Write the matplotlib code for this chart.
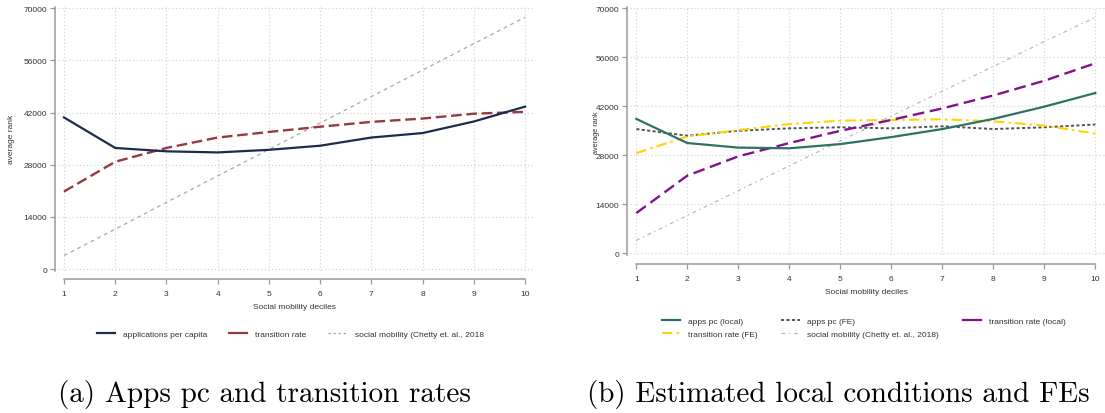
import matplotlib
matplotlib.use("Agg")
import matplotlib.pyplot as plt
from matplotlib.lines import Line2D

# ---------------- data ----------------
deciles = [1, 2, 3, 4, 5, 6, 7, 8, 9, 10]
yticks = [0, 14000, 28000, 42000, 56000, 70000]

# panel (a)
apps_pc = [40700, 32500, 31600, 31300, 32000, 33100, 35300, 36500, 39600, 43600]
transition_rate = [20800, 28800, 32500, 35300, 36800, 38200, 39500, 40400, 41700, 42200]
social_mobility = [3600, 10700, 17900, 25000, 32100, 39200, 46300, 53400, 60500, 67600]

# panel (b)
apps_pc_local = [38400, 31500, 30200, 30000, 31200, 33200, 35500, 38400, 41900, 45800]
apps_pc_fe = [35500, 33600, 35000, 35700, 36000, 35700, 36300, 35500, 36000, 36800]
trans_local = [11500, 22200, 27700, 31500, 35000, 38100, 41400, 45100, 49300, 54300]
trans_fe = [28600, 33400, 35200, 36900, 37900, 38100, 38300, 37700, 36500, 34200]
social_mobility_b = [3700, 10800, 17900, 25000, 32100, 39200, 46300, 53400, 60500, 67400]

caption_a = "(a) Apps pc and transition rates"
caption_b = "(b) Estimated local conditions and FEs"

# ---------------- figure ----------------
W, H = 1105, 414
DPI = 100
fig = plt.figure(figsize=(W / DPI, H / DPI), dpi=DPI)

FONT = "Liberation Sans"
FS = 6
TXT = "#333333"
SPINE = "#9a9a9a"
GRID = "#cfcfcf"


def px_axes(left, right, top, bottom):
    return fig.add_axes([left / W, 1 - bottom / H, (right - left) / W, (bottom - top) / H])


def style(ax, xlim, ylim, left_out, bottom_out):
    ax.set_xlim(*xlim)
    ax.set_ylim(*ylim)
    ax.set_xticks(deciles)
    ax.set_yticks(yticks)
    ax.set_xticklabels([str(d) for d in deciles])
    ax.set_yticklabels([str(t) for t in yticks])
    for s in ("top", "right"):
        ax.spines[s].set_visible(False)
    ax.spines["left"].set_position(("outward", left_out))
    ax.spines["bottom"].set_position(("outward", bottom_out))
    ax.spines["bottom"].set_bounds(1, 10)
    for s in ("left", "bottom"):
        ax.spines[s].set_color(SPINE)
        ax.spines[s].set_linewidth(1.1)
    ax.tick_params(axis="both", colors=SPINE, labelcolor=TXT, labelsize=FS,
                   length=3.5, width=0.9, pad=2.5)
    ax.tick_params(axis="x", pad=4)
    for lab in ax.get_xticklabels() + ax.get_yticklabels():
        lab.set_fontfamily(FONT)
    ax.grid(True, color=GRID, linestyle=(0, (1, 2.2)), linewidth=0.8)
    ax.set_axisbelow(True)
    ax.patch.set_alpha(0)


# ---------- panel (a) ----------
axa = px_axes(58, 533, 8, 272)
style(axa, (0.883, 10.156), (-537, 70349), 2, 6)
axa.plot(deciles, social_mobility, color="#a8a8a8", lw=0.9, ls=(0, (3, 3)))
axa.plot(deciles, transition_rate, color="#953a40", lw=1.7, ls=(0, (4.5, 2)))
axa.plot(deciles, apps_pc, color="#1f2b4d", lw=1.6, ls="-")

fig.text(12 / W, 1 - 139 / H, "average rank", rotation=90, ha="center", va="center",
         fontsize=FS, family=FONT, color=TXT)
fig.text(294.5 / W, 1 - 308 / H, "Social mobility deciles", ha="center", va="center",
         fontsize=FS, family=FONT, color=TXT)

handles_a = [
    Line2D([], [], color="#1f2b4d", lw=1.6),
    Line2D([], [], color="#953a40", lw=1.6),
    Line2D([], [], color="#a8a8a8", lw=0.9, ls=(0, (2, 2))),
]
labels_a = ["applications per capita", "transition rate", "social mobility (Chetty et. al., 2018"]
fig.legend(handles_a, labels_a, loc="center left", bbox_to_anchor=(97 / W, 1 - 335 / H),
           ncol=3, frameon=False, prop={"family": FONT, "size": FS},
           handlelength=2.2, handletextpad=0.95, columnspacing=2.6,
           borderpad=0, borderaxespad=0, labelcolor=TXT)

# ---------- panel (b) ----------
axb = px_axes(630, 1105, 8, 256)
style(axb, (0.876, 10.19), (-486, 70371), 2, 6.7)
axb.plot(deciles, social_mobility_b, color="#b8b8b8", lw=0.9, ls=(0, (3, 3, 1, 3)))
axb.plot(deciles, apps_pc_fe, color="#555555", lw=1.4, ls=(0, (1.6, 1.2)))
axb.plot(deciles, trans_fe, color="#ffd400", lw=1.5, ls=(0, (5, 2, 1.2, 2)))
axb.plot(deciles, trans_local, color="#82128a", lw=1.7, ls=(0, (5, 2.4)))
axb.plot(deciles, apps_pc_local, color="#2f7164", lw=1.6, ls="-")

fig.text(597 / W, 1 - 133 / H, "average rank", rotation=90, ha="center", va="center",
         fontsize=5.3, family=FONT, color=TXT)
fig.text(866 / W, 1 - 292 / H, "Social mobility deciles", ha="center", va="center",
         fontsize=FS, family=FONT, color=TXT)

h_apps_local = Line2D([], [], color="#2f7164", lw=1.6)
h_apps_fe = Line2D([], [], color="#555555", lw=1.4, ls=(0, (1.6, 1.2)))
h_trans_local = Line2D([], [], color="#82128a", lw=1.6)
h_trans_fe = Line2D([], [], color="#ffd400", lw=1.5, ls=(0, (5, 2, 1.2, 2)))
h_soc = Line2D([], [], color="#b8b8b8", lw=0.9, ls=(0, (3, 3, 1, 3)))
fig.legend([h_apps_local, h_trans_fe, h_apps_fe, h_soc, h_trans_local],
           ["apps pc (local)", "transition rate (FE)", "apps pc (FE)",
            "social mobility (Chetty et. al., 2018)", "transition rate (local)"],
           loc="center left", bbox_to_anchor=(662 / W, 1 - 328.5 / H),
           ncol=3, frameon=False, prop={"family": FONT, "size": FS},
           handlelength=2.2, handletextpad=0.95, columnspacing=2.8, labelspacing=0.6,
           borderpad=0, borderaxespad=0, labelcolor=TXT)

# ---------- captions ----------
fig.text(264 / W, 1 - 395 / H, caption_a, ha="center", va="center",
         fontsize=21, family="cmr10", color="black")
fig.text(838 / W, 1 - 395 / H, caption_b, ha="center", va="center",
         fontsize=21, family="cmr10", color="black")

fig.savefig("out.png", dpi=DPI, facecolor="white")
